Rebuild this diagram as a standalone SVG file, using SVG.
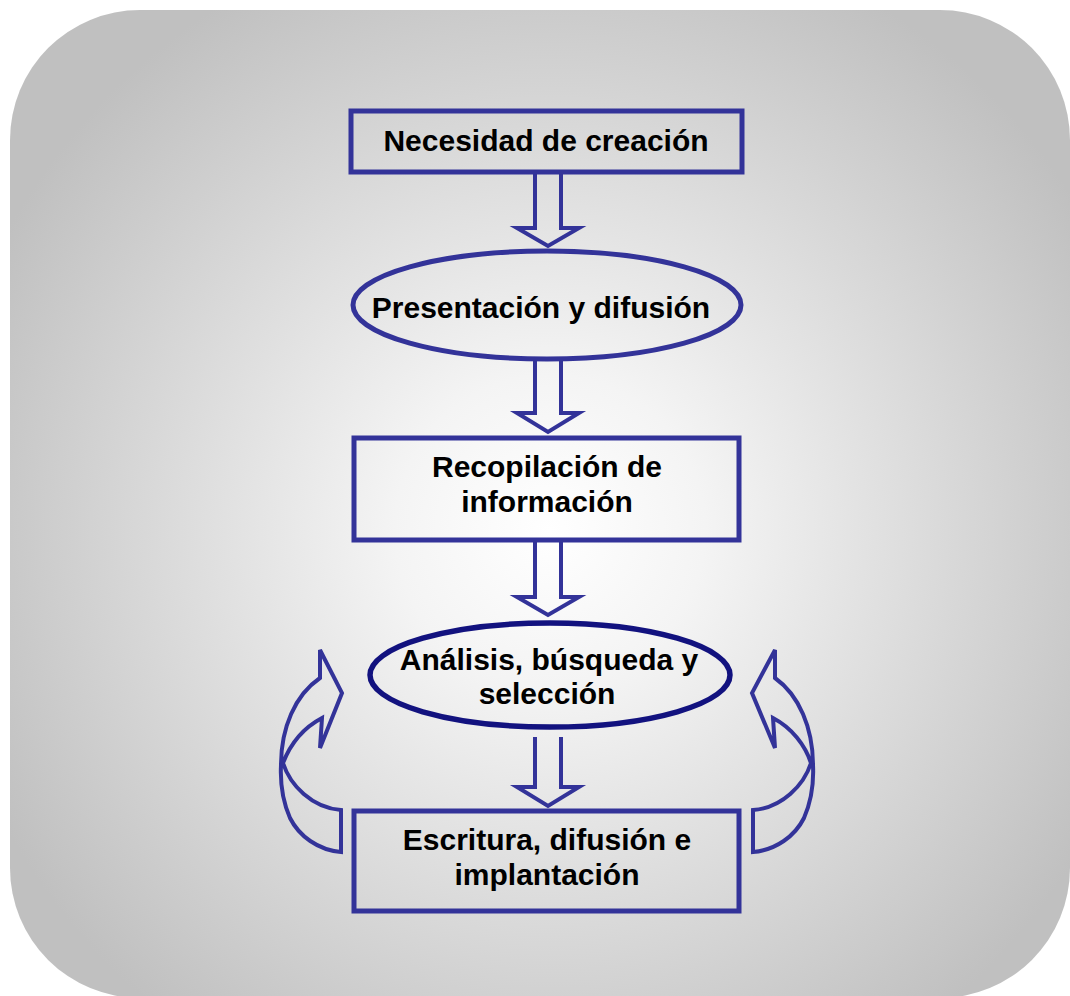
<svg xmlns="http://www.w3.org/2000/svg" width="1070" height="996" viewBox="0 0 1070 996">
<defs>
<radialGradient id="bg" gradientUnits="userSpaceOnUse" cx="550" cy="530" r="620">
<stop offset="0" stop-color="#ffffff"/>
<stop offset="0.25" stop-color="#f4f4f4"/>
<stop offset="1" stop-color="#c0c0c0"/>
</radialGradient>
<style>
.box{fill:none;stroke:#333399;stroke-width:5}
.dark{fill:none;stroke:#12127f;stroke-width:5.5}
.arr{fill:none;stroke:#333399;stroke-width:4;stroke-linejoin:miter}
.t{font-family:"Liberation Sans",Arial,sans-serif;font-weight:bold;font-size:30px;fill:#000;text-anchor:middle}
</style>
</defs>
<rect x="10" y="10" width="1060" height="988" rx="130" ry="130" fill="url(#bg)"/>
<g id="connectors">
<path class="arr" d="M535,173 L535,228 L517,228 L548,246 L579,228 L561,228 L561,173"/>
<path class="arr" d="M535,361 L535,413 L517,413 L548,432 L579,413 L561,413 L561,361"/>
<path class="arr" d="M535,541 L535,597 L517,597 L548,615 L579,597 L561,597 L561,541"/>
<path class="arr" d="M535,737 L535,787 L517,787 L548,806 L579,787 L561,787 L561,737"/>
<path class="arr" d="M341,810 L341,852 C318,850 299,836 290,818 C283,802 280,785 281,765 C281,728 295,695 320,678 L320,650 L342,693 L320,748 L322,718 C303,728 290,745 283,763 C290,785 312,808 341,810 Z"/>
<path class="arr" d="M753,810 L753,852 C776,850 795,836 804,818 C811,802 814,785 813,765 C813,728 799,695 775,678 L775,650 L752,693 L775,748 L773,718 C792,728 805,745 811,763 C804,785 782,808 753,810 Z"/>
</g>
<g id="n1">
<rect class="box" x="351" y="111" width="391" height="61"/>
<text class="t" x="546" y="151">Necesidad de creación</text>
</g>
<g id="n2">
<ellipse class="box" cx="547" cy="305" rx="194" ry="54"/>
<text class="t" x="541" y="318">Presentación y difusión</text>
</g>
<g id="n3">
<rect class="box" x="354" y="438" width="385" height="102"/>
<text class="t" x="547" y="477">Recopilación de</text>
<text class="t" x="547" y="512">información</text>
</g>
<g id="n4">
<ellipse class="dark" cx="550" cy="675" rx="180" ry="52"/>
<text class="t" x="549" y="670">Análisis, búsqueda y</text>
<text class="t" x="547" y="704">selección</text>
</g>
<g id="n5">
<rect class="box" x="354" y="811" width="385" height="100"/>
<text class="t" x="547" y="850">Escritura, difusión e</text>
<text class="t" x="547" y="885">implantación</text>
</g>
</svg>
